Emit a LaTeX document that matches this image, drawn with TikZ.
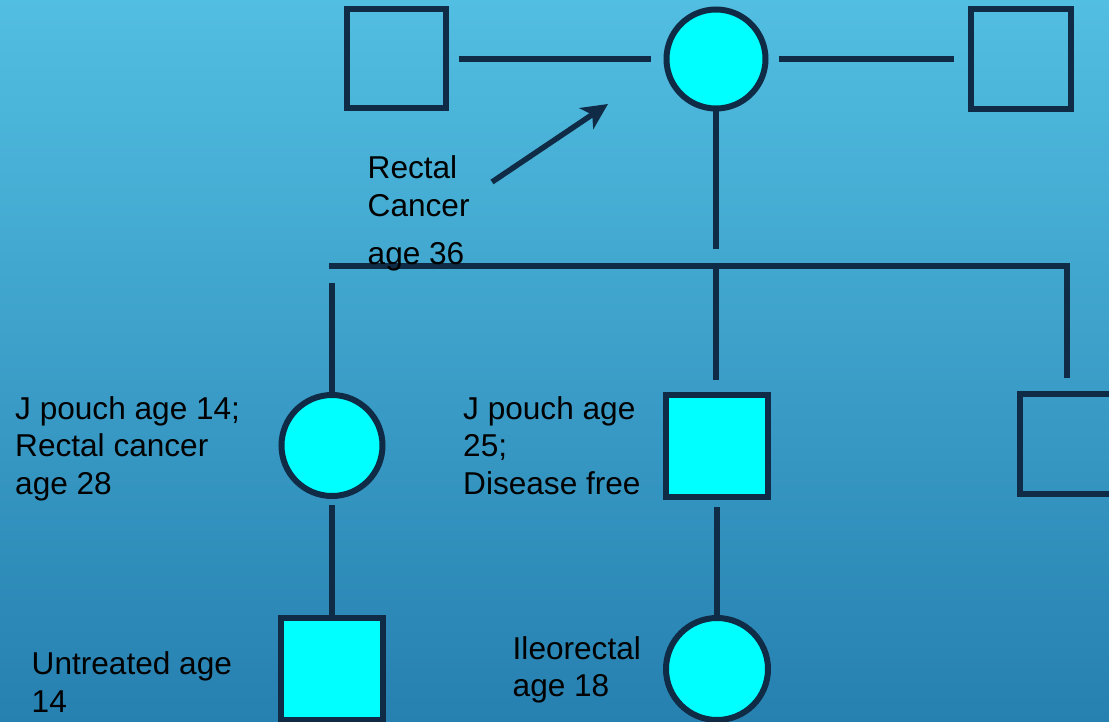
\documentclass[tikz,border=0pt]{standalone}
\usepackage{fontspec}
\setmainfont{Liberation Sans}
\usetikzlibrary{arrows.meta}
\definecolor{navy}{RGB}{15,43,69}
\definecolor{aqua}{RGB}{0,255,255}
\definecolor{bgtop}{RGB}{82,190,225}
\definecolor{bgbot}{RGB}{38,128,176}
\tikzset{
  pline/.style={draw=navy, line width=6pt},
  male/.style={rectangle, draw=navy, line width=6pt, inner sep=0pt},
  female/.style={circle, draw=navy, line width=6pt, inner sep=0pt},
  aff/.style={fill=aqua},
  lbl/.style={font=\fontsize{31.6}{37}\selectfont, anchor=base west, inner sep=0pt, text=black}
}
\begin{document}
\begin{tikzpicture}[x=1pt,y=-1pt]
\clip (0,0) rectangle (1109,722);
\shade[top color=bgtop, bottom color=bgbot] (0,0) rectangle (1109,722);
\useasboundingbox (0,0) rectangle (1109,722);

% generation I
\node[male, minimum size=99pt] (gf1) at (396.5,59) {};
\node[female, aff, minimum size=99pt] (gm) at (716,59) {};
\node[male, minimum size=100pt] (gf2) at (1021,59) {};
\draw[pline, shorten <=10pt, shorten >=13pt] (gf1.east) -- (gm.west);
\draw[pline, shorten <=10pt, shorten >=14pt] (gm.east) -- (gf2.west);

% generation II
\node[female, aff, minimum size=101pt] (d1) at (332,445.5) {};
\node[male, aff, minimum size=102pt] (s1) at (717,446) {};
\node[male, minimum size=100pt] (s2) at (1070,444) {};

\coordinate (dropT) at (716,249);
\coordinate (sibL) at (329,266);
\coordinate (sibR) at (1067,266);
\coordinate (sibM) at (716,266);
\coordinate (d1top) at (332,283);
\coordinate (s1top) at (716,380);
\coordinate (s2top) at (1067,378);
\coordinate (s2up) at (1067,263);
\draw[pline] (gm.south) -- (dropT);
\draw[pline] (sibL) -- (sibR);
\draw[pline] (d1top) -- (d1.north);
\draw[pline] (sibM) -- (s1top);
\draw[pline] (s2up) -- (s2top);

% generation III
\node[male, aff, minimum size=102pt] (g1) at (332,669) {};
\node[female, aff, minimum size=102pt] (g2) at (717,669) {};
\draw[pline, shorten <=6pt] (d1.south) -- (g1.north);
\draw[pline, shorten <=7pt] (s1.south) -- (g2.north);

% arrow
\coordinate (arS) at (492,182);
\coordinate (arE) at (608,104);
\draw[navy, line width=5.5pt, -{Stealth[length=26pt, width=25pt, inset=7pt]}] (arS) -- (arE);

% labels
\node[lbl] (t1a) at (367.5,179) {Rectal};
\node[lbl] (t1b) at (367.5,216.5) {Cancer};
\node[lbl] (t1c) at (367.5,265) {age 36};

\node[lbl] (t2a) at (15,419) {J pouch age 14;};
\node[lbl] (t2b) at (15,456.5) {Rectal cancer};
\node[lbl] (t2c) at (15,494) {age 28};

\node[lbl] (t3a) at (463,419) {J pouch age};
\node[lbl] (t3b) at (463,456.5) {25;};
\node[lbl] (t3c) at (463,494) {Disease free};

\node[lbl] (t4a) at (31.5,674.5) {Untreated age};
\node[lbl] (t4b) at (31.5,712.5) {14};

\node[lbl] (t5a) at (512.5,659) {Ileorectal};
\node[lbl] (t5b) at (512.5,696) {age 18};
\end{tikzpicture}
\end{document}
